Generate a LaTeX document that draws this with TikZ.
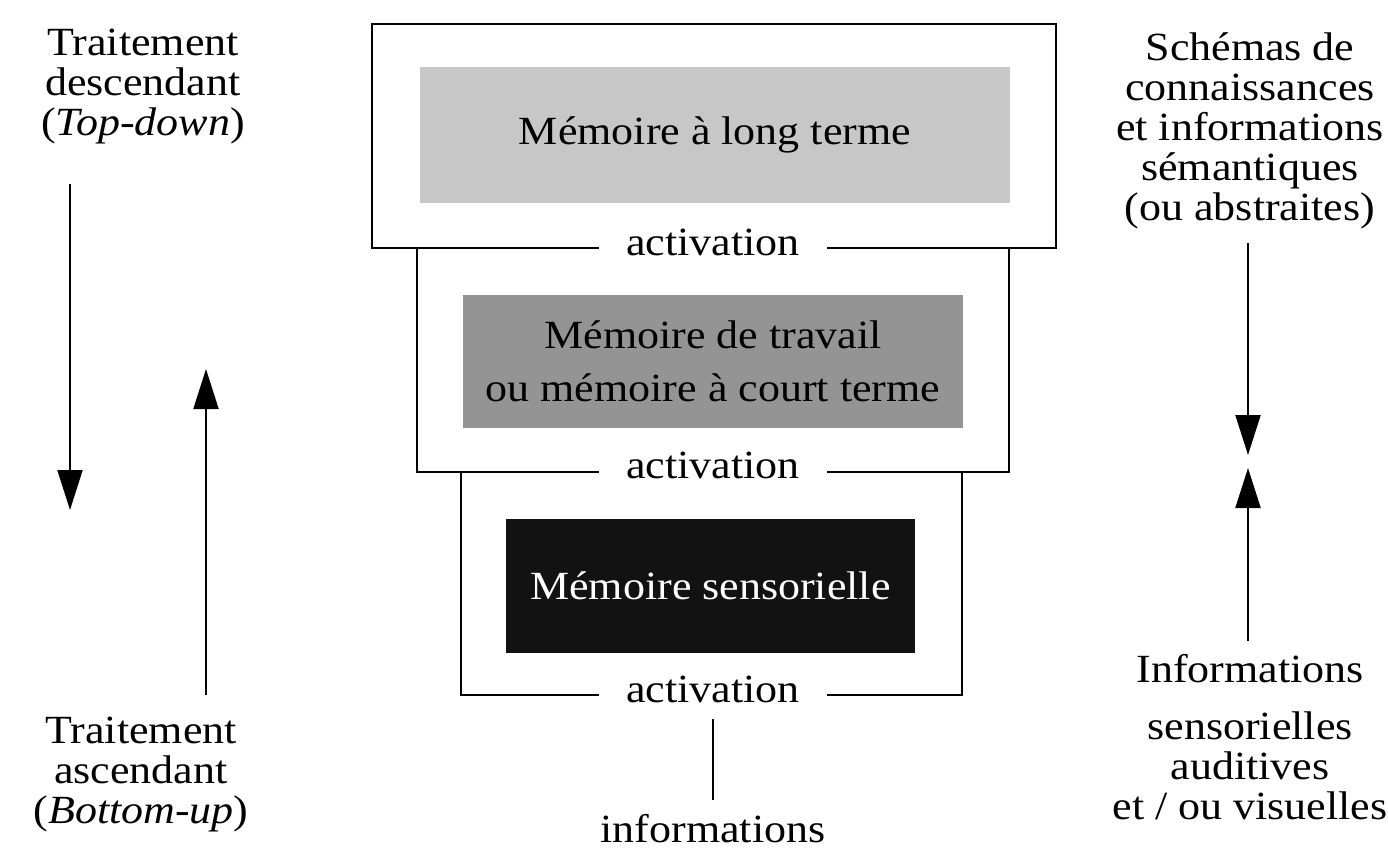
\documentclass[tikz,border=0pt]{standalone}
\usepackage{fontspec}
\setmainfont{Liberation Serif}[FakeStretch=1.1]
\usetikzlibrary{arrows.meta}
\definecolor{lgray}{gray}{0.78}
\definecolor{mgray}{gray}{0.58}
\definecolor{dblack}{gray}{0.07}
\tikzset{
  txt/.style={font=\fontsize{40}{40}\selectfont, align=center, inner sep=0pt},
  memo/.style={font=\fontsize{40}{53}\selectfont, align=center, inner sep=0pt, draw=none},
  actlbl/.style={txt, anchor=base, inner xsep=28pt},
  boxline/.style={line width=2.5pt, line cap=rect},
  arr/.style={line width=2pt, -{Triangle[length=40pt,width=25pt]}},
  plainline/.style={line width=2pt}
}
\begin{document}
\begin{tikzpicture}[x=1pt,y=-1pt]
\useasboundingbox (0,0) rectangle (1388,848);
\fill[white] (0,0) rectangle (1388,848);

% inner memory boxes
\node[memo, fill=lgray, minimum width=590pt, minimum height=136pt] (ltm) at (715,135) {Mémoire à long terme};
\node[memo, fill=mgray, minimum width=500pt, minimum height=133pt] (wm) at (713,361.5) {Mémoire de travail\\ou mémoire à court terme};
\node[memo, fill=dblack, text=white, minimum width=409pt, minimum height=134pt] (sm) at (710.5,586) {Mémoire sensorielle};

% activation labels
\node[actlbl] (act1) at (713,255) {activation};
\node[actlbl] (act2) at (713,478) {activation};
\node[actlbl] (act3) at (713,702) {activation};

% outer frames
\coordinate (b1tl) at (372,24);  \coordinate (b1tr) at (1056,24);
\coordinate (b1bl) at (372,248); \coordinate (b1br) at (1056,248);
\coordinate (b2tl) at (417,248); \coordinate (b2tr) at (1009,248);
\coordinate (b2bl) at (417,472); \coordinate (b2br) at (1009,472);
\coordinate (b3tl) at (461,472); \coordinate (b3tr) at (962,472);
\coordinate (b3bl) at (461,695); \coordinate (b3br) at (962,695);

\draw[boxline] (act1.west |- b1bl) -- (b1bl) -- (b1tl) -- (b1tr) -- (b1br) -- (act1.east |- b1br);
\draw[boxline] (b2tl) -- (b2bl) -- (act2.west |- b2bl);
\draw[boxline] (act2.east |- b2br) -- (b2br) -- (b2tr);
\draw[boxline] (b3tl) -- (b3bl) -- (act3.west |- b3bl);
\draw[boxline] (act3.east |- b3br) -- (b3br) -- (b3tr);

% informations
\node[txt, anchor=base] (info) at (713,842) {informations};
\draw[plainline] ([yshift=-17pt]act3.base) -- ([yshift=14pt]info.north);

% left column
\node[txt, anchor=north] (td) at (143,29) {Traitement\\descendant\\(\textit{Top-down})};
\node[txt, anchor=north] (bu) at (141,717) {Traitement\\ascendant\\(\textit{Bottom-up})};
\coordinate (tdS) at (70,184);  \coordinate (tdE) at (70,510);
\coordinate (buS) at (206,695); \coordinate (buE) at (206,369);
\draw[arr] (tdS) -- (tdE);
\draw[arr] (buS) -- (buE);

% right column
\node[txt, anchor=north] (schem) at (1250,32) {Schémas de\\connaissances\\et informations\\sémantiques\\(ou abstraites)};
\node[txt, anchor=base] (sinfo) at (1250,682) {Informations};
\node[txt, anchor=north] (sens) at (1250,712) {sensorielles\\auditives\\et / ou visuelles};
\coordinate (scS) at (1248,243); \coordinate (scE) at (1248,455);
\coordinate (seS) at (1248,641); \coordinate (seE) at (1248,468);
\draw[arr] (scS) -- (scE);
\draw[arr] (seS) -- (seE);
\end{tikzpicture}
\end{document}
